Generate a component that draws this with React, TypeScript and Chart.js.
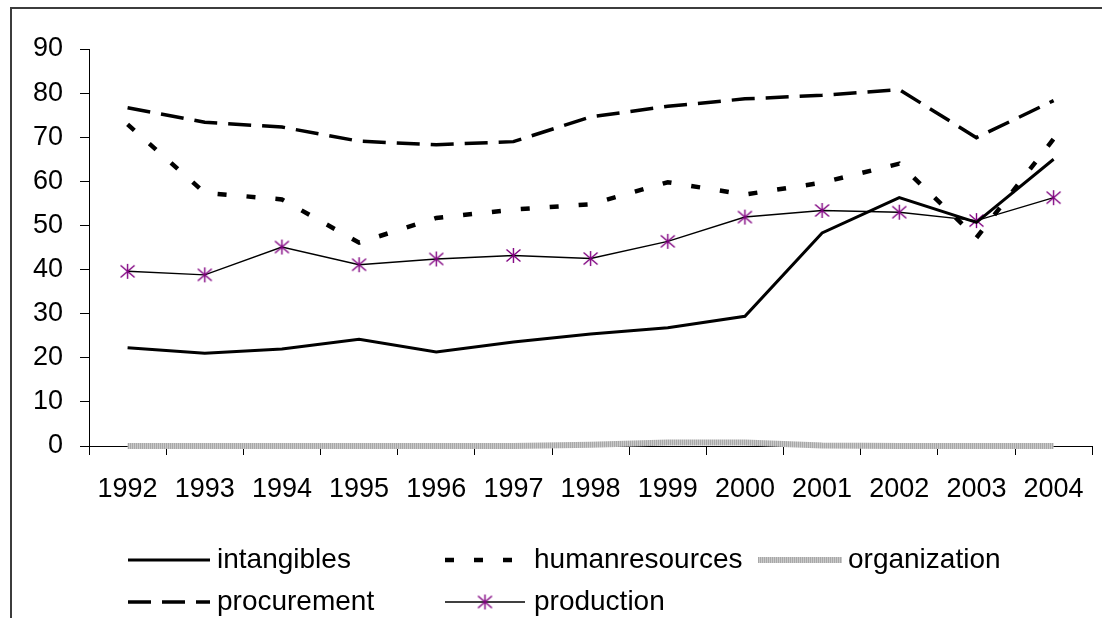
import React, { useEffect, useRef } from "react";
import { Chart, registerables } from "chart.js";

Chart.register(...registerables);

const years = ["1992", "1993", "1994", "1995", "1996", "1997", "1998", "1999", "2000", "2001", "2002", "2003", "2004"];
const intangibles = [22.3, 21.0, 22.0, 24.2, 21.3, 23.6, 25.4, 26.8, 29.4, 48.3, 56.3, 50.7, 65.0];
const humanresources = [72.9, 57.4, 55.9, 46.1, 51.7, 53.6, 54.8, 59.8, 57.0, 59.7, 64.0, 47.2, 69.6];
const organization = [0, 0, 0, 0, 0, 0, 0.3, 0.8, 0.8, 0.1, 0, 0, 0];
const procurement = [76.7, 73.4, 72.3, 69.1, 68.3, 69.0, 74.6, 77.0, 78.7, 79.5, 80.8, 69.9, 78.3];
const production = [39.6, 38.8, 45.1, 41.1, 42.4, 43.2, 42.5, 46.4, 51.9, 53.4, 53.0, 51.1, 56.3];
const seriesNames = ["intangibles", "humanresources", "organization", "procurement", "production"];
const yTicks = { min: 0, max: 90, step: 10 };

const FONT = "'Liberation Sans', Arial, sans-serif";

function makeStar(): HTMLCanvasElement {
  const c = document.createElement("canvas");
  c.width = 17;
  c.height = 17;
  const g = c.getContext("2d")!;
  g.strokeStyle = "#800080";
  g.lineWidth = 1.4;
  g.beginPath();
  g.moveTo(1.5, 2.5);
  g.lineTo(15.5, 14.5);
  g.moveTo(15.5, 2.5);
  g.lineTo(1.5, 14.5);
  g.moveTo(8.5, 1);
  g.lineTo(8.5, 16);
  g.stroke();
  return c;
}

function makeGrayPattern(ctx: CanvasRenderingContext2D): CanvasPattern | string {
  const c = document.createElement("canvas");
  c.width = 2;
  c.height = 2;
  const g = c.getContext("2d")!;
  g.fillStyle = "#a8a8a8";
  g.fillRect(0, 0, 1, 2);
  g.fillStyle = "#cacaca";
  g.fillRect(1, 0, 1, 2);
  return ctx.createPattern(c, "repeat") || "#c0c0c0";
}

// legend placement (style only)
const legendSlots = [
  { x0: 128, x1: 210, tx: 217, y: 560 },
  { x0: 445, x1: 525, tx: 534, y: 560 },
  { x0: 758, x1: 842, tx: 848, y: 560 },
  { x0: 128, x1: 210, tx: 217, y: 602 },
  { x0: 445, x1: 525, tx: 534, y: 602 },
];

export default function App() {
  const ref = useRef<HTMLCanvasElement | null>(null);

  useEffect(() => {
    const canvas = ref.current;
    if (!canvas) return;
    const ctx0 = canvas.getContext("2d")!;
    const star = makeStar();
    const gray = makeGrayPattern(ctx0);

    const framePlugin = {
      id: "frame",
      beforeDraw(chart: any) {
        const ctx = chart.ctx;
        ctx.save();
        ctx.fillStyle = "#ffffff";
        ctx.fillRect(0, 0, chart.width, chart.height);
        ctx.strokeStyle = "#3c3c3c";
        ctx.lineWidth = 2;
        ctx.strokeRect(11, 8, 1300, 900);
        ctx.restore();
      },
    };

    const legendPlugin = {
      id: "customLegend",
      afterDraw(chart: any) {
        const ctx = chart.ctx;
        ctx.save();
        chart.data.datasets.forEach((ds: any, i: number) => {
          const s = legendSlots[i];
          ctx.beginPath();
          ctx.setLineDash(ds.borderDash || []);
          ctx.lineDashOffset = 0;
          ctx.lineWidth = ds.borderWidth;
          ctx.strokeStyle = ds.borderColor;
          ctx.lineCap = "butt";
          ctx.moveTo(s.x0, s.y);
          ctx.lineTo(s.x1, s.y);
          ctx.stroke();
          ctx.setLineDash([]);
          if (ds.pointRadius > 0) {
            const cx = (s.x0 + s.x1) / 2;
            ctx.drawImage(star, cx - star.width / 2, s.y - star.height / 2);
          }
          ctx.fillStyle = "#000";
          ctx.font = `28px ${FONT}`;
          ctx.textBaseline = "middle";
          ctx.textAlign = "left";
          ctx.fillText(ds.label, s.tx, s.y);
        });
        ctx.restore();
      },
    };

    const chart = new Chart(canvas, {
      type: "line",
      data: {
        labels: years,
        datasets: [
          {
            label: seriesNames[0],
            data: intangibles,
            borderColor: "#000000",
            borderWidth: 3,
            borderDash: [],
            pointRadius: 0,
            tension: 0,
            clip: false,
          },
          {
            label: seriesNames[1],
            data: humanresources,
            borderColor: "#000000",
            borderWidth: 4.5,
            borderDash: [9, 20],
            pointRadius: 0,
            tension: 0,
            clip: false,
          },
          {
            label: seriesNames[2],
            data: organization,
            borderColor: gray as any,
            borderWidth: 6,
            borderDash: [],
            pointRadius: 0,
            tension: 0,
            clip: false,
          },
          {
            label: seriesNames[3],
            data: procurement,
            borderColor: "#000000",
            borderWidth: 3.5,
            borderDash: [23, 11],
            pointRadius: 0,
            tension: 0,
            clip: false,
          },
          {
            label: seriesNames[4],
            data: production,
            borderColor: "#000000",
            borderWidth: 1.4,
            borderDash: [],
            pointRadius: 8,
            pointStyle: star as any,
            pointBackgroundColor: "#800080",
            pointBorderColor: "#800080",
            tension: 0,
            clip: false,
          },
        ],
      },
      options: {
        responsive: false,
        animation: false,
        events: [],
        layout: { padding: { left: 0, right: 6, top: 49, bottom: 0 } },
        plugins: {
          legend: { display: false },
          tooltip: { enabled: false },
          title: { display: false },
        },
        scales: {
          x: {
            type: "category",
            offset: true,
            grid: {
              offset: true,
              drawOnChartArea: false,
              drawTicks: true,
              tickLength: 9,
              color: "#000",
              lineWidth: 1,
            },
            border: { display: true, color: "#000", width: 1 },
            ticks: {
              color: "#000",
              font: { size: 27, family: FONT },
              padding: 18,
              maxRotation: 0,
              autoSkip: false,
            },
            afterFit(scale: any) {
              scale.height = 172;
            },
          },
          y: {
            min: yTicks.min,
            max: yTicks.max,
            grid: {
              drawOnChartArea: false,
              drawTicks: true,
              tickLength: 9,
              color: "#000",
              lineWidth: 1,
            },
            border: { display: true, color: "#000", width: 1 },
            ticks: {
              stepSize: yTicks.step,
              color: "#000",
              font: { size: 27, family: FONT },
              padding: 17,
            },
            afterFit(scale: any) {
              scale.width = 89;
            },
          },
        },
      },
      plugins: [framePlugin, legendPlugin],
    });

    return () => {
      chart.destroy();
    };
  }, []);

  return (
    <div style={{ position: "fixed", left: 0, top: 0, width: 1102, height: 618, background: "#fff" }}>
      <canvas ref={ref} width={1102} height={618} style={{ display: "block", width: 1102, height: 618 }} />
    </div>
  );
}
